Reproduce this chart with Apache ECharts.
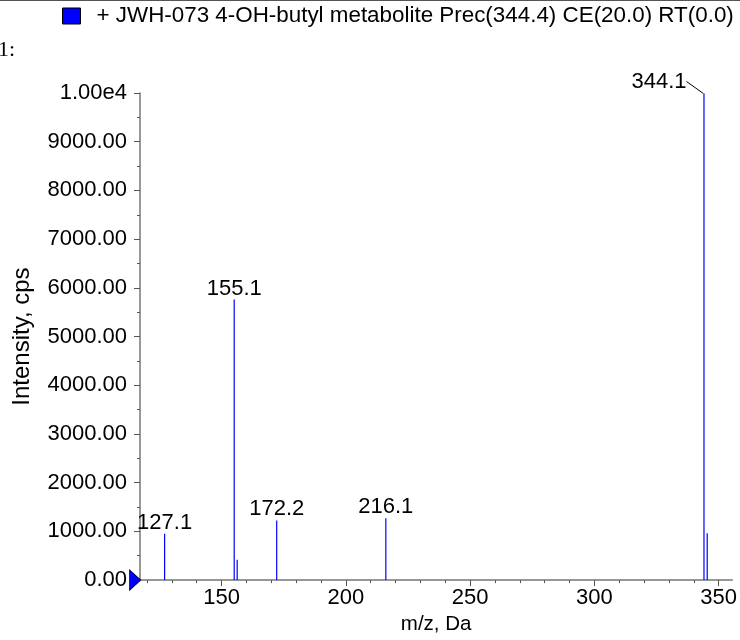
<!DOCTYPE html>
<html>
<head>
<meta charset="utf-8">
<script src="https://cdn.jsdelivr.net/npm/echarts@6/dist/echarts.min.js"></script>
<style>html,body{margin:0;padding:0;background:#fff}#c{width:740px;height:640px}</style>
</head>
<body>
<div id="c"></div>
<script>
// Data
var seriesName = '+ JWH-073 4-OH-butyl metabolite Prec(344.4) CE(20.0) RT(0.0)';
var mz        = [127.1, 155.1, 156.3, 172.2, 216.1, 344.1, 345.4];
var intensity = [950,   5760,  420,   1225,  1270,  9990,  960];
var labeled   = [true,  true,  false, true,  true,  true,  false];
var xMin = 117.2, xMax = 355.5;
var xMajorTicks = [150, 200, 250, 300, 350];
var xMinorTicks = [120,130,140,150,160,170,180,190,200,210,220,230,240,250,260,270,280,290,300,310,320,330,340,350];
var yMin = 0, yMax = 10000, yInterval = 1000;

var FONT = 'Liberation Sans, Arial, sans-serif';
var chart = echarts.init(document.getElementById('c'), null, {renderer: 'canvas'});

var data = mz.map(function (m, i) {
  return {
    value: [m, intensity[i]],
    label: {show: labeled[i]},
    labelLine: {show: i === 5}
  };
});

chart.setOption({
  animation: false,
  backgroundColor: '#fff',
  legend: {
    left: 57, top: 0,
    icon: 'rect',
    itemWidth: 18, itemHeight: 16,
    itemStyle: {borderColor: '#000', borderWidth: 1},
    textStyle: {fontFamily: FONT, fontSize: 22.4, color: '#000', padding: [0, 0, 0, 11]},
    data: [seriesName]
  },
  graphic: [
    {type: 'line', shape: {x1: 0, y1: 0.5, x2: 740, y2: 0.5}, style: {stroke: '#555', lineWidth: 1}},
    {type: 'text', left: -2, top: 39, style: {text: '1:', font: '22px "Liberation Serif", serif', fill: '#000'}}
  ],
  grid: {left: 140, right: 7, top: 93, bottom: 58},
  xAxis: [
    {
      type: 'value', min: xMin, max: xMax, position: 'bottom',
      axisLine: {show: true, lineStyle: {color: '#777', width: 1.5}},
      axisTick: {show: true, customValues: xMinorTicks, length: 3, lineStyle: {color: '#555'}},
      axisLabel: {show: false},
      splitLine: {show: false}
    },
    {
      type: 'value', min: xMin, max: xMax, position: 'bottom',
      axisLine: {show: false},
      axisTick: {show: true, customValues: xMajorTicks, length: 6, lineStyle: {color: '#555'}},
      axisLabel: {show: true, customValues: xMajorTicks, fontFamily: FONT, fontSize: 22, color: '#000', margin: 7},
      splitLine: {show: false},
      name: 'm/z, Da', nameLocation: 'middle', nameGap: 26,
      nameTextStyle: {fontFamily: FONT, fontSize: 20.5, color: '#000'}
    }
  ],
  yAxis: {
    type: 'value', min: yMin, max: yMax, interval: yInterval,
    axisLine: {show: true, lineStyle: {color: '#777', width: 1.5}},
    axisTick: {show: true, length: 6, lineStyle: {color: '#555'}},
    minorTick: {show: true, splitNumber: 2, length: 3, lineStyle: {color: '#555'}},
    axisLabel: {
      fontFamily: FONT, fontSize: 22, color: '#000', margin: 13,
      formatter: function (v) { return v === 10000 ? '1.00e4' : v.toFixed(2); }
    },
    splitLine: {show: false},
    name: 'Intensity, cps', nameLocation: 'middle', nameGap: 106,
    nameTextStyle: {fontFamily: FONT, fontSize: 24, color: '#000'}
  },
  series: [{
    name: seriesName,
    type: 'bar',
    xAxisIndex: 0,
    barWidth: 1.2,
    itemStyle: {color: '#0000ff'},
    label: {
      show: true, position: 'top', distance: 0,
      fontFamily: FONT, fontSize: 22, color: '#000',
      formatter: function (p) { return p.value[0].toFixed(1); }
    },
    labelLine: {show: false, lineStyle: {color: '#000', width: 1}},
    labelLayout: function (p) {
      if (p.dataIndex === 5) { return {dx: -45, dy: -1}; }
      return {};
    },
    data: data,
    markPoint: {
      silent: true,
      symbol: 'triangle',
      symbolSize: [20, 11],
      symbolRotate: -90,
      symbolOffset: [-5, 0],
      itemStyle: {color: '#0000ff', borderColor: '#000060', borderWidth: 1},
      label: {show: false},
      data: [{coord: [xMin, 0]}]
    }
  }]
});
</script>
</body>
</html>
